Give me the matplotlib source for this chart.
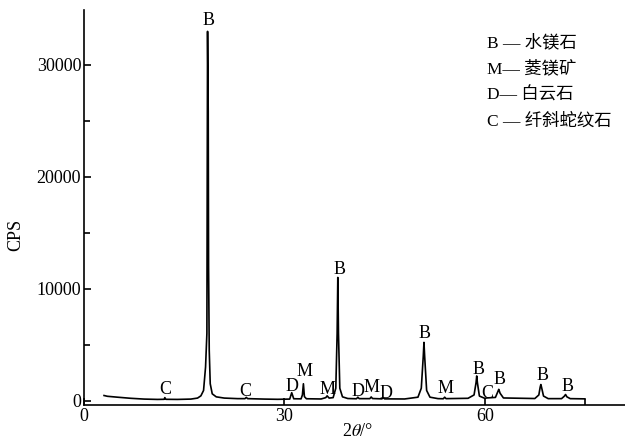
import numpy as np
import matplotlib
matplotlib.use("Agg")
import matplotlib.pyplot as plt

plt.rcParams['font.family'] = ['Liberation Serif', 'Noto Sans CJK SC']
plt.rcParams['mathtext.fontset'] = 'stix'

# ---------- data (2theta in deg, counts) ----------
two_theta = [3.0, 3.5, 5.0, 7.0, 9.0, 11.0, 12.0, 12.1, 12.25, 14.0, 16.0, 17.0,
             17.5, 17.9, 18.2, 18.4, 18.45, 18.5, 18.6, 18.65, 18.75, 18.9, 19.2,
             19.8, 21.0, 23.0, 24.1, 24.3, 24.5, 27.0, 29.0, 30.8, 31.1, 31.4,
             32.5, 32.7, 32.85, 33.0, 33.3, 35.5, 36.2, 36.4, 36.7, 37.3, 37.7,
             37.9, 38.0, 38.1, 38.3, 38.7, 39.5, 40.8, 41.0, 41.2, 42.8, 43.0,
             43.2, 44.6, 44.8, 45.0, 48.0, 50.0, 50.5, 50.8, 50.9, 51.0, 51.3,
             51.8, 53.0, 53.8, 54.0, 54.2, 57.5, 58.4, 58.7, 58.8, 58.9, 59.2,
             60.0, 60.3, 61.6, 62.0, 62.1, 62.3, 62.8, 67.5, 68.1, 68.3, 68.4,
             68.5, 68.8, 69.5, 71.5, 71.9, 72.1, 72.3, 72.8, 75.0]
cps = [450, 380, 300, 200, 130, 100, 110, 260, 110, 100, 130, 220,
       420, 900, 3000, 6000, 20000, 33000, 25800, 12000, 4500, 1500, 600,
       330, 220, 170, 170, 280, 170, 130, 110, 130, 700, 160,
       150, 500, 1500, 350, 160, 140, 260, 420, 220, 260, 1100,
       6000, 11000, 6000, 1100, 330, 180, 160, 300, 170, 170, 320,
       180, 150, 250, 150, 140, 300, 1100, 4000, 5200, 4000, 900,
       300, 170, 160, 300, 170, 200, 500, 1600, 2200, 1600, 400,
       200, 230, 280, 850, 1000, 650, 230, 180, 500, 1200, 1430,
       1200, 400, 170, 170, 380, 540, 330, 170, 150]

peak_tags = ['B', 'C', 'C', 'D', 'M', 'M', 'B', 'D', 'M', 'D',
             'B', 'M', 'B', 'C', 'B', 'B', 'B']
tag_x = [18.7, 12.1, 24.2, 31.2, 33.0, 36.4, 38.2, 41.1, 43.1, 45.2,
         51.0, 54.2, 59.0, 60.4, 62.2, 68.7, 72.4]
tag_y = [34000, 1000, 800, 1250, 2600, 1000, 11700, 800, 1150, 600,
         6000, 1070, 2770, 600, 1900, 2230, 1250]

legend_lines = ['B — 水镁石', 'M— 菱镁矿', 'D— 白云石', 'C — 纤斜蛇纹石']

fig = plt.figure(figsize=(6.25, 4.41), dpi=100)
ax = fig.add_axes([0.1344, 0.0816, 0.8656, 0.8954])

ax.plot(two_theta, cps, color='black', lw=1.2)

for t, x, y in zip(peak_tags, tag_x, tag_y):
    ax.text(x, y, t, ha='center', va='center', fontsize=13)

ax.set_xlim(0, 81)
ax.set_ylim(-400, 34900)
ax.set_xticks([0, 30, 60])
ax.set_xticks([75], minor=True)
ax.set_yticks([0, 10000, 20000, 30000])
ax.set_yticks([5000, 15000, 25000], minor=True)
ax.tick_params(which='both', direction='in', labelsize=13, width=1.2)
ax.tick_params(which='major', length=5)
ax.tick_params(which='minor', length=4)
ax.tick_params(axis='y', pad=2)
ax.tick_params(axis='x', pad=2)

for s in ['top', 'right']:
    ax.spines[s].set_visible(False)
for s in ['left', 'bottom']:
    ax.spines[s].set_linewidth(1.2)

fig.text(16 / 625, 1 - 235 / 441, 'CPS', rotation=90, ha='center', va='center', fontsize=13)
fig.text(358 / 625, 1 - 432 / 441, r'2$\theta$/°', ha='center', va='center', fontsize=13)

for i, line in enumerate(legend_lines):
    fig.text(487 / 625, 1 - (43 + 26.3 * i) / 441, line, ha='left', va='center', fontsize=12.5)

fig.savefig('out.png', dpi=100)
